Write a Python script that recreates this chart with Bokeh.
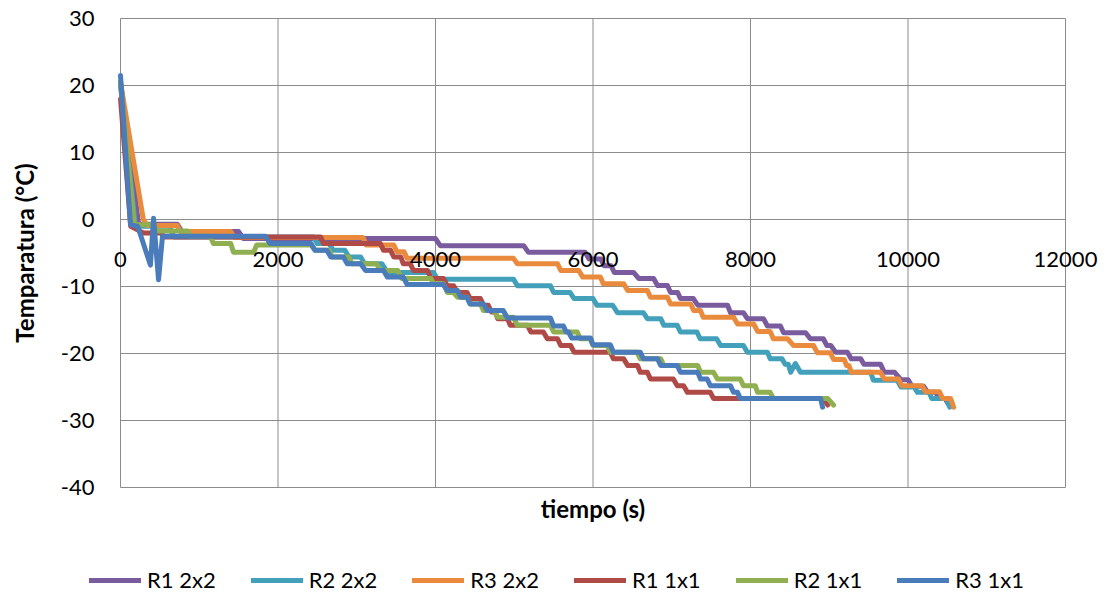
import math
from bokeh.plotting import figure
from bokeh.models import ColumnDataSource, FixedTicker, Legend, LegendItem, Label
from bokeh.embed import file_html
from bokeh.resources import INLINE

FONT = "Lato"

# ---------------- data ----------------
x_ticks = [0, 2000, 4000, 6000, 8000, 10000, 12000]
x_tick_labels = ["0", "2000", "4000", "6000", "8000", "10000", "12000"]
y_ticks = [-40, -30, -20, -10, 0, 10, 20, 30]
y_tick_labels = ["-40", "-30", "-20", "-10", "0", "10", "20", "30"]
x_title = "tiempo (s)"
y_title = "Temparatura (°C)"

series_names = ["R1 2x2", "R2 2x2", "R3 2x2", "R1 1x1", "R2 1x1", "R3 1x1"]
series_colors = ["#7A5C9E", "#42A0BA", "#E98A3C", "#B04A47", "#8FAF50", "#4A7BBA"]

# (time s, temperature °C)
r1_2x2 = [(0, 20.5), (230, -0.7), (720, -0.7), (780, -1.8), (1500, -1.8), (1560, -2.85),
          (4000, -2.85), (4060, -3.9), (5120, -3.9), (5180, -4.9), (5900, -4.9), (5950, -5.9),
          (6100, -5.9), (6140, -6.9), (6230, -6.9), (6270, -7.9), (6515, -7.9), (6580, -8.8),
          (6770, -8.8), (6820, -9.85), (6945, -9.85), (6985, -10.9), (7075, -10.9), (7110, -11.8),
          (7275, -11.8), (7330, -12.8), (7710, -12.8), (7745, -13.9), (7910, -13.9), (7960, -14.8),
          (8165, -14.8), (8215, -15.9), (8380, -15.9), (8420, -16.9), (8700, -16.9), (8760, -17.8),
          (8925, -17.8), (8970, -18.8), (9020, -18.8), (9080, -19.8), (9230, -19.8), (9280, -20.8),
          (9400, -20.8), (9440, -21.6), (9650, -21.6), (9700, -22.8), (9830, -22.8), (9910, -23.9),
          (10000, -23.9), (10050, -24.9), (10200, -24.9), (10250, -25.8), (10350, -25.8),
          (10400, -26.7), (10470, -26.7), (10520, -27.7)]

r2_2x2 = [(0, 20.0), (190, -1.0), (620, -1.0), (680, -2.6), (2450, -2.6), (2500, -3.6),
          (2650, -3.6), (2700, -4.6), (2850, -4.6), (2900, -5.6), (3050, -5.6), (3100, -6.6),
          (3320, -6.6), (3390, -7.9), (3975, -7.9), (4025, -8.9), (4990, -8.9), (5040, -9.9),
          (5460, -9.9), (5500, -10.9), (5710, -10.9), (5760, -11.8), (6000, -11.8), (6050, -12.8),
          (6250, -12.8), (6310, -13.9), (6640, -13.9), (6690, -14.8), (6860, -14.8), (6900, -15.8),
          (7070, -15.8), (7110, -16.8), (7320, -16.8), (7360, -17.8), (7570, -17.8), (7620, -18.8),
          (7910, -18.8), (7960, -19.8), (8215, -19.8), (8250, -20.8), (8400, -20.8), (8440, -21.6),
          (8480, -21.6), (8510, -22.8), (8570, -21.5), (8635, -22.8), (9525, -22.8), (9560, -24.0),
          (9865, -24.0), (9910, -25.0), (10080, -25.0), (10120, -25.8), (10270, -25.8),
          (10300, -26.7), (10490, -26.7), (10530, -28.0)]

r3_2x2 = [(0, 20.5), (165, 8.8), (290, 0.0), (340, -0.9), (720, -0.9), (760, -1.8), (1400, -1.8),
          (1450, -2.7), (3080, -2.7), (3120, -3.8), (3470, -3.8), (3510, -4.8), (3600, -4.8),
          (3640, -5.8), (4990, -5.8), (5040, -6.6), (5550, -6.6), (5590, -7.6), (5820, -7.6),
          (5870, -8.6), (6095, -8.6), (6130, -9.6), (6390, -9.6), (6440, -10.6), (6690, -10.6),
          (6730, -11.6), (6945, -11.6), (6985, -12.6), (7240, -12.6), (7280, -13.6), (7365, -13.6),
          (7400, -14.6), (7785, -14.6), (7835, -15.6), (8040, -15.6), (8090, -16.7), (8250, -16.7),
          (8290, -17.8), (8470, -17.8), (8545, -18.8), (8800, -18.8), (8850, -19.9), (9015, -19.9),
          (9055, -20.9), (9190, -20.9), (9220, -21.8), (9250, -21.8), (9280, -22.8), (9650, -22.8),
          (9700, -23.8), (9880, -23.8), (9920, -24.8), (10180, -24.8), (10220, -25.7),
          (10400, -25.7), (10440, -26.7), (10540, -26.7), (10580, -28.0)]

r1_1x1 = [(0, 18.0), (130, -1.0), (290, -2.0), (510, -2.0), (560, -2.6), (2540, -2.6),
          (2580, -3.6), (3300, -3.6), (3340, -4.6), (3430, -4.6), (3470, -5.6), (3560, -5.6),
          (3590, -6.6), (3680, -6.6), (3720, -7.6), (3900, -7.6), (3940, -8.8), (4100, -8.8),
          (4150, -9.9), (4230, -9.9), (4280, -10.9), (4400, -10.9), (4440, -11.8), (4570, -11.8),
          (4610, -12.8), (4670, -12.8), (4710, -13.8), (4760, -13.8), (4790, -14.8), (4915, -14.8),
          (4950, -15.8), (5170, -15.8), (5210, -16.8), (5370, -16.8), (5420, -17.8), (5550, -17.8),
          (5590, -18.8), (5715, -18.8), (5760, -19.8), (6220, -19.8), (6260, -20.8), (6390, -20.8),
          (6440, -21.8), (6565, -21.8), (6600, -22.8), (6690, -22.8), (6730, -23.8), (7020, -23.8),
          (7070, -24.8), (7150, -24.8), (7200, -25.8), (7490, -25.8), (7530, -26.7), (8930, -26.7),
          (8980, -27.7)]

r2_1x1 = [(0, 20.5), (175, -0.8), (420, -0.8), (470, -1.7), (850, -1.7), (890, -2.5), (1140, -2.5),
          (1180, -3.6), (1400, -3.6), (1435, -4.9), (1690, -4.9), (1730, -3.8), (2420, -3.8),
          (2470, -4.6), (2650, -4.6), (2690, -5.6), (2900, -5.6), (2940, -6.6), (3250, -6.6),
          (3300, -7.6), (3520, -7.6), (3570, -8.8), (3940, -8.8), (3975, -9.6), (4100, -9.6),
          (4150, -10.9), (4230, -10.9), (4280, -11.6), (4400, -11.6), (4440, -12.6), (4570, -12.6),
          (4610, -13.6), (4740, -13.6), (4790, -14.6), (4990, -14.6), (5040, -15.8), (5460, -15.8),
          (5500, -16.8), (5800, -16.8), (5840, -17.8), (5960, -17.8), (6000, -18.8), (6180, -18.8),
          (6220, -19.8), (6560, -19.8), (6600, -20.8), (6860, -20.8), (6900, -21.8), (7330, -21.8),
          (7365, -22.8), (7530, -22.8), (7580, -23.8), (7870, -23.8), (7910, -24.8), (8060, -24.8),
          (8090, -25.8), (8250, -25.8), (8290, -26.7), (8980, -26.7), (9055, -27.7)]

r3_1x1 = [(0, 21.5), (127, -0.8), (216, -1.0), (260, -2.5), (380, -6.8), (420, 0.2), (483, -9.0),
          (533, -2.5), (1840, -2.5), (1900, -3.6), (2420, -3.6), (2470, -4.6), (2620, -4.6),
          (2670, -5.6), (2830, -5.6), (2880, -6.6), (3050, -6.6), (3110, -7.6), (3340, -7.6),
          (3390, -8.6), (3590, -8.6), (3640, -9.7), (4100, -9.7), (4150, -10.6), (4280, -10.6),
          (4320, -11.6), (4400, -11.6), (4440, -12.6), (4610, -12.6), (4660, -13.6), (4860, -13.6),
          (4915, -14.7), (5460, -14.7), (5500, -15.9), (5625, -15.9), (5660, -16.8), (5690, -16.8),
          (5730, -17.7), (5970, -17.7), (6000, -18.7), (6220, -18.7), (6260, -19.8), (6600, -19.8),
          (6640, -20.8), (6820, -20.8), (6860, -21.8), (7070, -21.8), (7110, -22.8), (7330, -22.8),
          (7365, -23.8), (7450, -23.8), (7490, -24.8), (7745, -24.8), (7785, -25.8), (7835, -25.8),
          (7870, -26.7), (8890, -26.7), (8915, -28.0)]

all_series = [r1_2x2, r2_2x2, r3_2x2, r1_1x1, r2_1x1, r3_1x1]

# ---------------- layout geometry (the frame fills the whole canvas) ----------------
X_MIN, X_MAX = 0, 12000
Y_MIN, Y_MAX = -40, 30
CANVAS_W, CANVAS_H = 1107, 598
AREA_L, AREA_T, AREA_W, AREA_H = 120, 18, 945, 469   # plot area inside the canvas, px
xs = AREA_W / (X_MAX - X_MIN)
ys = AREA_H / (Y_MAX - Y_MIN)
x_range = (X_MIN - AREA_L / xs, X_MAX + (CANVAS_W - AREA_L - AREA_W) / xs)
y_range = (Y_MIN - (CANVAS_H - AREA_T - AREA_H) / ys, Y_MAX + AREA_T / ys)

GRID = "#8C8C8C"
p = figure(frame_width=CANVAS_W, frame_height=CANVAS_H, x_range=x_range, y_range=y_range,
           output_backend="svg", toolbar_location=None,
           min_border_left=0, min_border_right=0, min_border_top=0, min_border_bottom=0,
           background_fill_color="white", border_fill_color="white")
p.outline_line_color = None
p.xgrid.grid_line_color = None
p.ygrid.grid_line_color = None

# grid lines limited to the plot area
p.segment(x0=x_ticks, x1=x_ticks, y0=[Y_MIN] * len(x_ticks), y1=[Y_MAX] * len(x_ticks),
          line_color=GRID, line_width=1, level="underlay")
p.segment(x0=[X_MIN] * len(y_ticks), x1=[X_MAX] * len(y_ticks), y0=y_ticks, y1=y_ticks,
          line_color=GRID, line_width=1, level="underlay")

# y axis drawn at x = 0 (tick labels only)
ya = p.yaxis[0]
ya.fixed_location = X_MIN
ya.ticker = FixedTicker(ticks=y_ticks)
ya.major_label_overrides = {t: l for t, l in zip(y_ticks, y_tick_labels)}
ya.axis_line_color = None
ya.major_tick_line_color = None
ya.minor_tick_line_color = None
ya.major_tick_out = 0
ya.major_tick_in = 0
ya.major_label_standoff = 26
ya.major_label_text_font = FONT
ya.major_label_text_font_size = "22px"
ya.major_label_text_color = "black"

# x axis drawn through y = 0 (tick labels only)
xa = p.xaxis[0]
xa.fixed_location = 0
xa.ticker = FixedTicker(ticks=x_ticks)
xa.major_label_overrides = {t: l for t, l in zip(x_ticks, x_tick_labels)}
xa.axis_line_color = None
xa.major_tick_line_color = None
xa.minor_tick_line_color = None
xa.major_tick_out = 0
xa.major_tick_in = 0
xa.major_label_standoff = 32
xa.major_label_text_font = FONT
xa.major_label_text_font_size = "22px"
xa.major_label_text_color = "black"

# axis titles
p.add_layout(Label(x=(X_MIN + X_MAX) / 2, y=Y_MIN, y_offset=-21, text=x_title,
                   text_align="center", text_baseline="middle",
                   text_font=FONT, text_font_style="bold", text_font_size="24px",
                   text_color="black"))
p.add_layout(Label(x=X_MIN, y=(Y_MIN + Y_MAX) / 2, x_offset=-96, text=y_title,
                   angle=math.pi / 2, text_align="center", text_baseline="middle",
                   text_font=FONT, text_font_style="bold", text_font_size="24px",
                   text_color="black"))

items = []
for name, color, data in zip(series_names, series_colors, all_series):
    src = ColumnDataSource(dict(t=[d[0] for d in data], temp=[d[1] for d in data]))
    r = p.line("t", "temp", source=src, line_width=5, line_color=color,
               line_join="round", line_cap="round")
    items.append(LegendItem(label=name, renderers=[r]))

legend = Legend(items=items, orientation="horizontal", location=(89, 5),
                label_text_font=FONT, label_text_font_size="22px",
                label_text_color="black", glyph_width=52, glyph_height=22,
                label_standoff=6, spacing=35, padding=0, margin=0,
                border_line_color=None, background_fill_alpha=0)
p.add_layout(legend, "center")

open("out.html", "w").write(file_html(p, INLINE))
